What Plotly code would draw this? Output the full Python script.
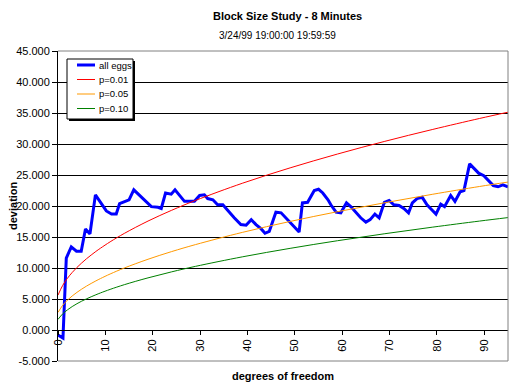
import plotly.graph_objects as go

# ---- data ----
eggs_df = [0, 0.8, 1.05, 1.75, 2.8, 3.9, 4.9, 5.8, 6.75, 7.9, 8.8, 10.2, 11.3, 12.3, 13.0,
           14.4, 15.0, 16.0, 17.2, 18.3, 19.7, 21.1, 21.8, 22.7, 23.9, 24.7, 25.6, 26.7,
           28.8, 29.9, 30.9, 31.6, 32.7, 33.7, 34.8, 35.8, 37.2, 38.6, 39.7, 40.8, 41.8,
           42.9, 43.7, 44.6, 46.0, 47.1, 48.1, 49.1, 50.2, 50.9, 51.6, 52.7, 54.1, 55.0,
           55.9, 57.0, 57.6, 58.7, 59.7, 60.9, 61.8, 62.9, 63.9, 65.0, 65.9, 66.9, 67.8,
           68.9, 69.9, 70.9, 72.0, 73.0, 74.0, 74.8, 75.8, 76.9, 77.9, 78.9, 79.8, 80.8,
           81.6, 82.9, 83.8, 84.9, 85.7, 86.9, 87.8, 88.8, 89.9, 90.8, 91.9, 92.9, 93.9, 95.0]
eggs_dev = [-0.8, -1.3, -1.3, 11.6, 13.4, 12.7, 12.7, 16.3, 15.5, 21.8, 20.8, 19.2, 18.7, 18.7, 20.4,
            20.9, 21.0, 22.6, 21.7, 20.8, 19.9, 19.8, 19.6, 22.1, 21.9, 22.6, 21.7, 20.75,
            20.75, 21.7, 21.8, 21.2, 21.0, 20.2, 20.2, 19.25, 18.1, 17.0, 16.9, 17.8, 17.0,
            16.3, 15.6, 15.9, 19.0, 18.9, 18.1, 17.3, 16.3, 15.8, 20.5, 20.6, 22.5, 22.7,
            22.1, 21.0, 20.2, 19.0, 18.9, 20.5, 19.9, 18.9, 18.1, 17.4, 17.8, 18.7, 18.1,
            20.6, 20.9, 20.2, 20.1, 19.6, 18.9, 20.5, 21.2, 21.4, 20.2, 19.4, 18.7, 20.3,
            19.9, 21.7, 20.75, 22.3, 22.5, 26.8, 26.1, 25.3, 24.9, 24.1, 23.3, 23.1, 23.4, 23.1]

crit_df = [0, 1, 2, 3, 4, 5, 6, 7, 8, 9, 11, 14, 19, 24, 29, 39, 49, 59, 69, 79, 89, 95]
p01 = [5.63, 7.21, 8.35, 9.28, 10.09, 10.81, 11.48, 12.09, 12.67, 13.21, 14.22, 15.58, 17.57,
       19.31, 20.89, 23.69, 26.15, 28.38, 30.43, 32.33, 34.12, 35.13]
p05 = [2.84, 3.99, 4.82, 5.49, 6.07, 6.59, 7.07, 7.51, 7.92, 8.31, 9.03, 10.0, 11.41,
       12.65, 13.77, 15.76, 17.51, 19.08, 20.53, 21.88, 23.15, 23.86]
p10 = [1.71, 2.61, 3.25, 3.78, 4.24, 4.65, 5.02, 5.36, 5.68, 5.99, 6.55, 7.31, 8.41,
       9.38, 10.26, 11.81, 13.17, 14.40, 15.53, 16.58, 17.57, 18.13]

series_names = ["all eggs", "p=0.01", "p=0.05", "p=0.10"]
series_colors = ["#0000FF", "#FF0000", "#FF9900", "#008000"]
series_widths = [3, 1, 1, 1]

y_ticks = [-5, 0, 5, 10, 15, 20, 25, 30, 35, 40, 45]
y_tick_text = ["-5.000", "0.000", "5.000", "10.000", "15.000", "20.000", "25.000",
               "30.000", "35.000", "40.000", "45.000"]
x_ticks = [0, 10, 20, 30, 40, 50, 60, 70, 80, 90]
x_tick_text = ["0", "10", "20", "30", "40", "50", "60", "70", "80", "90"]

FONT = "Liberation Sans, Arial, sans-serif"
W, H = 518, 389
L, R, T, B = 58, 10, 51, 28
PW, PH = W - L - R, H - T - B


def px_x(px):
    return (px - L) / PW


def px_y(py):
    return (H - B - py) / PH


fig = go.Figure()
fig.add_trace(go.Scatter(x=eggs_df, y=eggs_dev, mode="lines", name=series_names[0],
                         line=dict(color=series_colors[0], width=series_widths[0])))
for name, ys, col, w in zip(series_names[1:], [p01, p05, p10], series_colors[1:], series_widths[1:]):
    fig.add_trace(go.Scatter(x=crit_df, y=ys, mode="lines", name=name,
                             line=dict(color=col, width=w, shape="spline")))

# manual legend box (Excel style with shadow)
lx0, lx1, ly0, ly1 = 67, 133, 59, 119
shapes = [
    dict(type="rect", xref="paper", yref="paper", x0=px_x(lx0 + 2), x1=px_x(lx1 + 2),
         y0=px_y(ly1 + 2), y1=px_y(ly0 + 2), fillcolor="black", line=dict(width=0)),
    dict(type="rect", xref="paper", yref="paper", x0=px_x(lx0), x1=px_x(lx1),
         y0=px_y(ly1), y1=px_y(ly0), fillcolor="white", line=dict(color="black", width=1)),
]
annotations = []
for i, (name, col, w) in enumerate(zip(series_names, series_colors, series_widths)):
    yy = 65 + i * 14.5
    shapes.append(dict(type="line", xref="paper", yref="paper", x0=px_x(77), x1=px_x(95),
                       y0=px_y(yy), y1=px_y(yy), line=dict(color=col, width=w)))
    annotations.append(dict(text=name, xref="paper", yref="paper", x=px_x(96.5), y=px_y(yy),
                            showarrow=False, xanchor="left", yanchor="middle",
                            font=dict(size=9.5)))

# plot area border (gray) on top, right and bottom
shapes += [
    dict(type="line", xref="paper", yref="paper", x0=0, x1=1, y0=1, y1=1,
         line=dict(color="#808080", width=1)),
    dict(type="line", xref="paper", yref="paper", x0=1, x1=1, y0=0, y1=1,
         line=dict(color="#808080", width=1)),
    dict(type="line", xref="paper", yref="paper", x0=0, x1=1, y0=0, y1=0,
         line=dict(color="#808080", width=1)),
]

annotations += [
    dict(text="<b>Block Size Study - 8 Minutes</b>", xref="paper", yref="paper",
         x=px_x(287), y=px_y(16), showarrow=False, font=dict(size=11),
         xanchor="center", yanchor="middle"),
    dict(text="3/24/99 19:00:00 19:59:59", xref="paper", yref="paper",
         x=px_x(277), y=px_y(35), showarrow=False, font=dict(size=10),
         xanchor="center", yanchor="middle"),
    dict(text="<b>deviation</b>", xref="paper", yref="paper",
         x=px_x(13), y=px_y(206), showarrow=False,
         textangle=-90, font=dict(size=11), xanchor="center", yanchor="middle"),
    dict(text="<b>degrees of freedom</b>", xref="paper", yref="paper",
         x=px_x(283), y=px_y(376), showarrow=False, font=dict(size=11),
         xanchor="center", yanchor="middle"),
]

fig.update_layout(
    width=W, height=H,
    margin=dict(l=L, r=R, t=T, b=B, autoexpand=False),
    paper_bgcolor="white", plot_bgcolor="white",
    font=dict(family=FONT, size=11, color="black"),
    showlegend=False,
    xaxis=dict(range=[0, 95], tickvals=x_ticks, ticktext=x_tick_text, tickangle=-90,
               anchor="free", position=0.1, showgrid=False, zeroline=False,
               showline=True, linecolor="black", ticks="outside", ticklen=4,
               tickcolor="black", tickfont=dict(size=11), automargin=False),
    yaxis=dict(range=[-5, 45], tickvals=y_ticks, ticktext=y_tick_text,
               showgrid=True, gridcolor="black", gridwidth=1, zeroline=False,
               showline=True, linecolor="black", ticks="outside", ticklen=5,
               tickcolor="black", tickfont=dict(size=11), automargin=False),
    shapes=shapes,
    annotations=annotations,
)

fig.write_html("out.html",
               config={"displayModeBar": False, "staticPlot": True},
               post_script="document.body.style.margin='0px';document.body.style.overflow='hidden';")
